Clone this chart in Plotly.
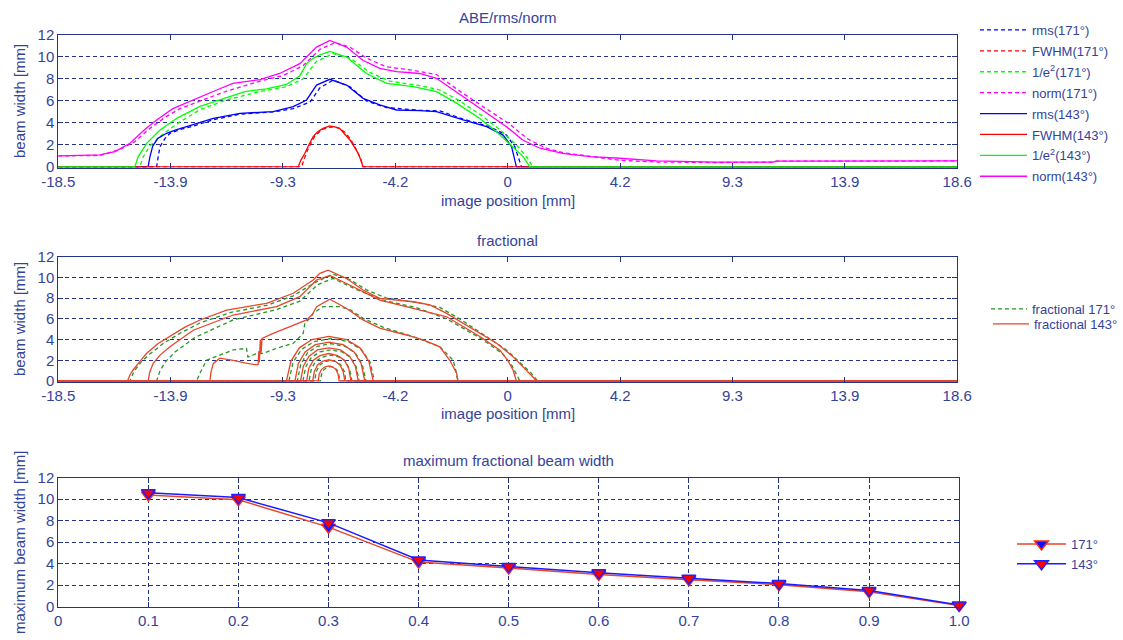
import plotly.graph_objects as go

W, H = 1123, 640
FONT = "Liberation Sans, Arial, sans-serif"
AX = "#24338a"
TXT = "#33439a"

# ---------------- ABE / rms / norm beam widths (position [mm], width [mm]) -------------
rms171_x = [-18.5, -14.44, -14.37, -14.30, -14.09, -13.89, -13.48, -12.94, -12.10, -11.00,
            -9.63, -8.80, -8.11, -7.70, -7.15, -6.47, -5.78, -4.95, -3.58, -2.75,
            -1.79, -0.69, 0.00, 0.34, 0.50, 0.62, 18.6]
rms171_y = [0, 0, 1.0, 1.85, 2.6, 3.06, 3.4, 3.7, 4.3, 4.8,
            5.0, 5.3, 5.9, 7.2, 7.9, 7.3, 6.0, 5.4, 5.15, 5.1,
            4.35, 3.66, 2.9, 1.85, 0.8, 0, 0]

fwhm171_x = [-18.5, -8.46, -8.32, -8.16, -7.91, -7.62, -7.15, -6.88, -6.63, -6.38, -6.18, -6.01, -5.92, 18.6]
fwhm171_y = [0, 0, 0.9, 1.8, 2.8, 3.4, 3.66, 3.5, 3.1, 2.3, 1.5, 0.7, 0, 0]

e2_171_x = [-18.5, -15.13, -15.00, -14.72, -14.18, -13.48, -12.65, -11.55, -10.18, -9.08,
            -8.40, -7.84, -7.15, -6.46, -5.64, -4.81, -3.58, -2.75, -1.93, -0.98,
            -0.28, 0.41, 0.84, 1.09, 18.6]
e2_171_y = [0, 0, 0.9, 1.9, 3.0, 4.1, 5.2, 6.1, 6.85, 7.3,
            8.0, 9.6, 10.3, 9.9, 8.6, 7.8, 7.4, 7.0, 6.0, 4.6,
            3.4, 2.0, 0.9, 0, 0]

norm171_x = [-18.5, -17.60, -16.78, -15.95, -15.34, -14.72, -14.10, -13.48, -12.65, -11.55,
             -10.18, -9.23, -8.40, -7.70, -7.08, -6.46, -5.78, -4.95, -3.87, -2.89,
             -1.80, -0.69, 0.13, 0.84, 1.58, 2.32, 3.44, 4.68, 6.19, 8.66,
             10.99, 11.14, 15.11, 18.6]
norm171_y = [1.0, 1.0, 1.05, 1.6, 2.3, 3.5, 4.5, 5.3, 6.0, 6.9,
             7.8, 8.3, 9.2, 10.7, 11.3, 10.9, 9.9, 9.1, 8.8, 8.4,
             6.7, 5.1, 3.9, 2.6, 1.75, 1.3, 0.95, 0.6, 0.45, 0.4,
             0.43, 0.52, 0.52, 0.55]

rms143_x = [-18.5, -14.79, -14.72, -14.60, -14.39, -14.03, -13.61, -13.20, -12.10, -11.00,
            -9.63, -8.80, -8.25, -7.84, -7.29, -6.60, -5.92, -5.23, -4.54, -3.58,
            -2.89, -1.79, -0.82, -0.14, 0.21, 0.34, 0.41, 18.6]
rms143_y = [0, 0, 0.9, 1.9, 2.6, 3.06, 3.4, 3.66, 4.42, 4.88,
            5.03, 5.48, 6.09, 7.45, 7.97, 7.45, 6.24, 5.64, 5.18, 5.12,
            5.03, 4.27, 3.66, 2.9, 1.85, 0.64, 0, 0]

fwhm143_x = [-18.5, -8.60, -8.49, -8.32, -8.16, -7.98, -7.79, -7.57, -7.29, -7.08,
             -6.88, -6.67, -6.46, -6.30, -6.12, -6.01, -5.92, 18.6]
fwhm143_y = [0, 0, 0.6, 1.24, 2.0, 2.76, 3.2, 3.5, 3.73, 3.65,
             3.5, 3.0, 2.45, 1.9, 1.24, 0.6, 0, 0]

e2_143_x = [-18.5, -15.34, -15.20, -14.85, -14.30, -13.61, -12.65, -11.55, -10.80, -9.90,
            -9.08, -8.53, -8.25, -7.98, -7.70, -7.29, -6.60, -5.78, -4.95, -3.85,
            -2.89, -2.06, -1.10, -0.41, 0.27, 0.69, 0.96, 18.6]
e2_143_y = [0, 0, 0.94, 2.15, 3.36, 4.42, 5.5, 6.3, 6.85, 7.1,
            7.5, 8.3, 9.4, 9.88, 10.2, 10.5, 10.0, 8.5, 7.6, 7.3,
            6.85, 5.8, 4.4, 3.2, 1.85, 0.94, 0, 0]

norm143_x = [-18.5, -17.60, -16.78, -16.16, -15.54, -14.93, -14.44, -13.77, -12.94, -11.96,
             -11.29, -10.18, -9.36, -8.53, -7.84, -7.29, -6.60, -5.93, -5.23, -4.54,
             -3.58, -2.89, -1.80, -0.82, 0.00, 0.67, 1.38, 2.32, 3.44, 4.68,
             6.19, 8.66, 10.99, 11.14, 15.11, 18.6]
norm143_y = [1.0, 1.05, 1.1, 1.4, 2.15, 3.4, 4.27, 5.3, 6.1, 7.0,
             7.6, 7.95, 8.5, 9.4, 10.9, 11.5, 10.9, 9.7, 8.97, 8.67,
             8.5, 8.06, 6.4, 4.9, 3.66, 2.45, 1.7, 1.24, 0.94, 0.79,
             0.55, 0.43, 0.43, 0.52, 0.52, 0.55]

# ---------------- fractional beam widths, one curve per fraction 0.1 ... 0.9 ----------------
frac171_x = [
    [-18.5, -15.54, -15.38, -15.09, -14.72, -14.18, -13.48, -12.65, -11.41, -9.90, -8.82, -7.91, -7.16,
     -6.46, -5.78, -4.95, -3.74, -2.75, -1.93, -0.82, 0.00, 0.55, 1.00, 1.29, 18.6],
    [-18.5, -14.44, -14.30, -14.06, -13.68, -12.86, -11.28, -9.49, -8.53, -7.79, -7.16, -6.26, -5.10,
     -3.74, -2.47, -0.98, -0.15, 0.22, 0.42, 0.55, 18.6],
    [-18.5, -12.79, -12.65, -12.38, -11.83, -11.28, -10.73, -10.67, -10.38, -10.04, -9.49, -8.80, -8.39,
     -8.32, -8.11, -7.98, -7.57, -6.88, -6.46, -5.92, -5.10, -3.85, -2.75, -2.34, -2.20, -2.09, -2.01, 18.6],
    [-18.5, -8.98, -8.81, -8.46, -7.94, -7.25, -6.53, -5.99, -5.63, -5.45, 18.6],
    [-18.5, -8.63, -8.49, -8.22, -7.80, -7.25, -6.67, -6.24, -5.95, -5.80, 18.6],
    [-18.5, -8.40, -8.29, -8.06, -7.71, -7.25, -6.78, -6.43, -6.20, -6.08, 18.6],
    [-18.5, -8.15, -8.06, -7.88, -7.61, -7.25, -6.90, -6.64, -6.47, -6.38, 18.6],
    [-18.5, -7.92, -7.85, -7.72, -7.52, -7.25, -7.00, -6.82, -6.69, -6.63, 18.6],
    [-18.5, -7.68, -7.64, -7.55, -7.42, -7.25, -7.10, -6.99, -6.92, -6.88, 18.6],
]
frac171_y = [
    [0, 0, 0.9, 1.8, 2.6, 3.6, 4.6, 5.6, 6.6, 7.3, 8.2, 9.5, 10.3,
     9.8, 8.8, 8.0, 7.6, 7.1, 6.0, 4.3, 3.0, 1.8, 0.8, 0, 0],
    [0, 0, 1.0, 1.9, 2.8, 4.2, 5.9, 6.9, 7.7, 9.3, 9.9, 8.9, 7.8,
     7.1, 6.0, 4.0, 2.6, 1.5, 0.6, 0, 0],
    [0, 0, 0.75, 2.0, 2.5, 3.0, 3.15, 2.3, 2.6, 2.67, 3.15, 3.64, 4.6,
     5.6, 6.05, 6.53, 7.17, 7.17, 6.9, 6.05, 5.2, 4.28, 3.3, 2.4, 2.0, 1.0, 0, 0],
    [0, 0, 1.8, 3.05, 3.8, 4.1, 3.8, 3.05, 1.8, 0, 0],
    [0, 0, 1.6, 2.7, 3.35, 3.6, 3.35, 2.7, 1.6, 0, 0],
    [0, 0, 1.35, 2.25, 2.8, 3.0, 2.8, 2.25, 1.35, 0, 0],
    [0, 0, 1.1, 1.9, 2.3, 2.5, 2.3, 1.9, 1.1, 0, 0],
    [0, 0, 0.9, 1.5, 1.85, 2.0, 1.85, 1.5, 0.9, 0, 0],
    [0, 0, 0.6, 1.05, 1.3, 1.4, 1.3, 1.05, 0.6, 0, 0],
]

frac143_x = [
    [-18.5, -15.64, -15.54, -15.41, -15.13, -14.85, -14.39, -13.89, -13.27, -12.65, -11.55, -9.90, -8.80,
     -7.98, -7.70, -7.36, -6.60, -5.92, -5.23, -3.85, -3.16, -2.47, -1.10, -0.41, 0.27, 0.83, 1.04, 1.24, 18.6],
    [-18.5, -14.79, -14.72, -14.58, -14.30, -13.89, -12.93, -11.28, -9.49, -8.53, -7.84, -7.29, -6.33,
     -5.23, -3.85, -2.47, -1.10, -0.28, 0.05, 0.27, 0.41, 18.6],
    [-18.5, -12.24, -12.20, -12.10, -11.83, -11.28, -10.80, -10.31, -10.25, -10.22, -10.20, -10.16, -10.13,
     -10.09, -9.63, -8.94, -8.25, -7.99, -7.84, -7.29, -6.60, -5.92, -5.23, -4.13, -3.44, -2.75, -2.34,
     -2.06, -2.00, 18.6],
    [-18.5, -9.08, -8.90, -8.55, -8.03, -7.33, -6.60, -6.05, -5.68, -5.50, 18.6],
    [-18.5, -8.73, -8.59, -8.31, -7.89, -7.33, -6.74, -6.29, -6.00, -5.85, 18.6],
    [-18.5, -8.50, -8.38, -8.15, -7.80, -7.33, -6.85, -6.48, -6.24, -6.12, 18.6],
    [-18.5, -8.25, -8.16, -7.97, -7.70, -7.33, -6.97, -6.69, -6.51, -6.42, 18.6],
    [-18.5, -8.00, -7.93, -7.80, -7.60, -7.33, -7.07, -6.87, -6.74, -6.67, 18.6],
    [-18.5, -7.77, -7.73, -7.64, -7.51, -7.33, -7.16, -7.04, -6.95, -6.91, 18.6],
]
frac143_y = [
    [0, 0, 0.6, 1.06, 1.9, 2.67, 3.6, 4.28, 5.2, 5.89, 6.85, 7.5, 8.47,
     9.75, 10.4, 10.7, 9.9, 8.78, 7.98, 7.65, 7.34, 6.53, 4.6, 3.64, 2.35, 1.06, 0.5, 0, 0],
    [0, 0, 0.9, 1.7, 2.5, 3.3, 4.9, 6.37, 7.17, 8.14, 9.75, 10.2, 9.1,
     7.8, 7.0, 6.2, 4.3, 3.0, 2.0, 1.06, 0, 0],
    [0, 0, 0.8, 1.7, 2.2, 2.0, 1.75, 1.55, 1.6, 2.9, 1.8, 4.0, 2.6,
     4.1, 4.6, 5.24, 5.9, 6.5, 7.17, 7.9, 7.0, 5.9, 5.1, 4.44, 3.96, 3.3, 2.0,
     0.74, 0, 0],
    [0, 0, 1.9, 3.2, 4.0, 4.3, 4.0, 3.2, 1.9, 0, 0],
    [0, 0, 1.7, 2.8, 3.5, 3.75, 3.5, 2.8, 1.7, 0, 0],
    [0, 0, 1.45, 2.4, 3.0, 3.2, 3.0, 2.4, 1.45, 0, 0],
    [0, 0, 1.2, 2.0, 2.45, 2.65, 2.45, 2.0, 1.2, 0, 0],
    [0, 0, 0.9, 1.55, 1.9, 2.05, 1.9, 1.55, 0.9, 0, 0],
    [0, 0, 0.65, 1.1, 1.35, 1.45, 1.35, 1.1, 0.65, 0, 0],
]

# ---------------- maximum fractional beam width ----------------
fractions = [0.1, 0.2, 0.3, 0.4, 0.5, 0.6, 0.7, 0.8, 0.9, 1.0]
max171 = [10.4, 9.95, 7.4, 4.15, 3.6, 3.0, 2.5, 2.05, 1.4, 0.1]
max143 = [10.6, 10.15, 7.8, 4.35, 3.75, 3.15, 2.65, 2.15, 1.5, 0.15]

# position axis ticks (evenly spaced) and their printed labels
pos_tickvals = [-18.5, -13.8625, -9.225, -4.5875, 0.05, 4.6875, 9.325, 13.9625, 18.6]
pos_ticktext = ["-18.5", "-13.9", "-9.3", "-4.2", "0", "4.2", "9.3", "13.9", "18.6"]
frac_tickvals = [0, 0.1, 0.2, 0.3, 0.4, 0.5, 0.6, 0.7, 0.8, 0.9, 1.0]
frac_ticktext = ["0", "0.1", "0.2", "0.3", "0.4", "0.5", "0.6", "0.7", "0.8", "0.9", "1.0"]
width_ticks = [0, 2, 4, 6, 8, 10, 12]

fig = go.Figure()

DASH = "4px,3px"
LW = 1.3

top = [
    ("rms(171°)", rms171_x, rms171_y, "#0000ff", DASH),
    ("FWHM(171°)", fwhm171_x, fwhm171_y, "#ff0000", DASH),
    ("1/e<sup>2</sup>(171°)", e2_171_x, e2_171_y, "#00ff00", DASH),
    ("norm(171°)", norm171_x, norm171_y, "#ff00ff", DASH),
    ("rms(143°)", rms143_x, rms143_y, "#0000ff", "solid"),
    ("FWHM(143°)", fwhm143_x, fwhm143_y, "#ff0000", "solid"),
    ("1/e<sup>2</sup>(143°)", e2_143_x, e2_143_y, "#00ff00", "solid"),
    ("norm(143°)", norm143_x, norm143_y, "#ff00ff", "solid"),
]
for name, xs, ys, col, dash in top:
    fig.add_trace(go.Scatter(x=xs, y=ys, mode="lines", name=name,
                             line=dict(color=col, width=LW, dash=dash),
                             xaxis="x", yaxis="y", legend="legend", legendgroup=name))

GREEN = "#259625"
RED = "#e8452a"
for i, (xs, ys) in enumerate(zip(frac171_x, frac171_y)):
    fig.add_trace(go.Scatter(x=xs, y=ys, mode="lines", name="fractional 171°",
                             line=dict(color=GREEN, width=LW, dash=DASH),
                             xaxis="x2", yaxis="y2", legend="legend2",
                             legendgroup="f171", showlegend=(i == 0)))
for i, (xs, ys) in enumerate(zip(frac143_x, frac143_y)):
    fig.add_trace(go.Scatter(x=xs, y=ys, mode="lines", name="fractional 143°",
                             line=dict(color=RED, width=LW),
                             xaxis="x2", yaxis="y2", legend="legend4",
                             legendgroup="f143", showlegend=(i == 0)))

fig.add_trace(go.Scatter(x=fractions, y=max171, mode="lines+markers", name="171°",
                         line=dict(color=RED, width=1.5),
                         marker=dict(symbol="triangle-down", size=12, color="#1010ff",
                                     line=dict(color="#ff2a10", width=1.5)),
                         cliponaxis=False, xaxis="x3", yaxis="y3", legend="legend3"))
fig.add_trace(go.Scatter(x=fractions, y=max143, mode="lines+markers", name="143°",
                         line=dict(color="#1a1aff", width=1.5),
                         marker=dict(symbol="triangle-down", size=12, color="#ff0000",
                                     line=dict(color="#2020ff", width=1.5)),
                         cliponaxis=False, xaxis="x3", yaxis="y3", legend="legend3"))


def px_x(p):
    return p / W


def px_y(p):
    return 1 - p / H


axis_common = dict(showline=True, linecolor=AX, linewidth=1, mirror="ticks",
                   ticks="inside", ticklen=5, tickwidth=1, tickcolor=AX,
                   zeroline=False, tickfont=dict(size=15, color=TXT), automargin=False)
grid = dict(showgrid=True, gridcolor=AX, gridwidth=1, griddash=DASH)
leg = dict(xanchor="left", yanchor="top", bgcolor="rgba(0,0,0,0)",
           font=dict(size=13, color=TXT))

fig.update_layout(
    width=W, height=H, margin=dict(l=0, r=0, t=0, b=0),
    paper_bgcolor="white", plot_bgcolor="white",
    font=dict(family=FONT, size=15, color=TXT),
    xaxis=dict(domain=[px_x(58.3), px_x(958)], anchor="y", range=[-18.5, 18.6],
               tickvals=pos_tickvals, ticktext=pos_ticktext, showgrid=False, **axis_common),
    yaxis=dict(domain=[px_y(167.6), px_y(35)], anchor="x", range=[-0.06, 12],
               tickvals=width_ticks, **grid, **axis_common),
    xaxis2=dict(domain=[px_x(58.3), px_x(958)], anchor="y2", range=[-18.5, 18.6],
                tickvals=pos_tickvals, ticktext=pos_ticktext, showgrid=False, **axis_common),
    yaxis2=dict(domain=[px_y(381.6), px_y(256.7)], anchor="x2", range=[-0.06, 12],
                tickvals=width_ticks, **grid, **axis_common),
    xaxis3=dict(domain=[px_x(58.3), px_x(960)], anchor="y3", range=[0, 1],
                tickvals=frac_tickvals, ticktext=frac_ticktext, **grid, **axis_common),
    yaxis3=dict(domain=[px_y(606.7), px_y(477.7)], anchor="x3", range=[0, 12],
                tickvals=width_ticks, **grid, **axis_common),
    legend=dict(x=px_x(975), y=px_y(15), itemwidth=47, tracegroupgap=1, **leg),
    legend2=dict(x=px_x(986), y=px_y(294), itemwidth=36, **leg),
    legend4=dict(x=px_x(989), y=px_y(309), itemwidth=36, **leg),
    legend3=dict(x=px_x(1012), y=px_y(529), itemwidth=49, **leg),
)

titles = [
    ("ABE/rms/norm", 508, 17, 0),
    ("image position [mm]", 508, 200, 0),
    ("fractional", 508, 240, 0),
    ("image position [mm]", 508, 413, 0),
    ("maximum fractional beam width", 509, 460, 0),
    ("beam width [mm]", 19, 101, -90),
    ("beam width [mm]", 19, 319, -90),
    ("maximum beam width [mm]", 19, 542, -90),
]
for text, x, y, ang in titles:
    fig.add_annotation(text=text, x=px_x(x), y=px_y(y), xref="paper", yref="paper",
                       xanchor="center", yanchor="middle", showarrow=False, textangle=ang,
                       font=dict(size=15, color=TXT))

fig.write_html("out.html")
